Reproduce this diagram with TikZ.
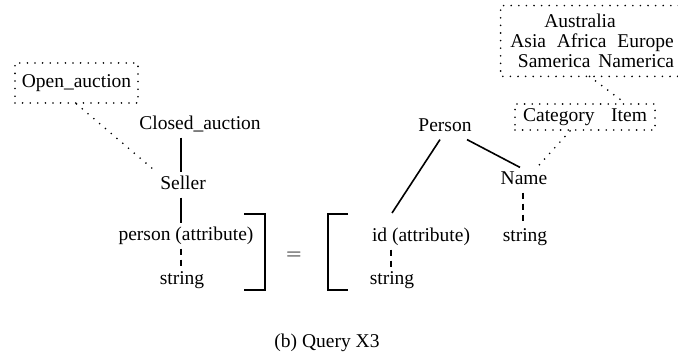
\documentclass[tikz,border=0pt]{standalone}
\usepackage{fontspec}
\setmainfont{Liberation Serif}
\begin{document}
\begin{tikzpicture}[x=0.5pt,y=-0.5pt,
  lbl/.style={inner sep=1.5pt,text height=0.7em,text depth=0.22em,font=\fontsize{9.75}{11.7}\selectfont},
  dotline/.style={line width=0.9pt,dash pattern=on 0pt off 3.8pt,line cap=round},
  solidline/.style={line width=0.8pt},
  dashline/.style={line width=0.8pt,dash pattern=on 3pt off 2.5pt},
  brk/.style={line width=1pt}]
\useasboundingbox (0,0) rectangle (678,356);
% left tree
\node[lbl,draw,dotline,minimum width=61.5pt,minimum height=20pt] (oa) at (76.5,83) {Open\_auction};
\node[lbl] (ca) at (200,125) {Closed\_auction};
\node[lbl] (seller) at (183,185) {Seller};
\node[lbl] (pattr) at (186,236) {person (attribute)};
\node[lbl] (s1) at (182,280) {string};
\draw[solidline] (ca.south -| 181,0) -- (seller.north -| 181,0);
\draw[solidline] (seller.south -| 181,0) -- (pattr.north -| 181,0);
\draw[dashline] (pattr.south -| 181,0) -- (s1.north -| 181,0);
\draw[dotline] (oa.south) -- (seller.north west);
% brackets and equals
\draw[brk] (244,214) -- (265,214) -- (265,290) -- (244,290);
\node[lbl] (eq) at (294,255) {$=$};
\draw[brk] (348,214) -- (328,214) -- (328,290) -- (348,290);
% right tree
\node[lbl] (person) at (445,127) {Person};
\node[lbl] (idattr) at (421,237) {id (attribute)};
\node[lbl] (s2) at (392,280) {string};
\node[lbl] (name) at (524,180) {Name};
\node[lbl] (s3) at (525,237) {string};
\coordinate (idtop) at (392,213);
\draw[solidline] ([xshift=-2.5pt]person.south) -- (idtop);
\draw[solidline] ([xshift=11pt]person.south) -- ([xshift=-2pt]name.north);
\draw[dashline] (name.south -| 523,0) -- (s3.north -| 523,0);
\draw[dashline] (idattr.south -| 391,0) -- (s2.north -| 391,0);
% category boxes
\node[lbl,draw,dotline,minimum width=70pt,minimum height=13pt] (cat) at (585,117) {Category\hspace{0.85em}Item};
\node[minimum width=88.5pt,minimum height=35pt,inner sep=0pt] (bigbox) at (589.5,41) {};
\draw[dotline] (bigbox.north east) -- (bigbox.north west) -- (bigbox.south west) -- (bigbox.south east);
\node[lbl] (aus) at (580,23) {Australia};
\node[lbl] (asia) at (592,43) {Asia\hspace{0.55em}Africa\hspace{0.55em}Europe};
\node[lbl] (sam) at (596,63) {Samerica\hspace{0.4em}Namerica};
\draw[dotline] (bigbox.south) -- ([xshift=20pt]cat.north);
\draw[dotline] ([xshift=-7.5pt]cat.south) -- ([xshift=6.5pt]name.north);
% caption
\node[lbl] (caption) at (327,343) {(b) Query X3};
\end{tikzpicture}
\end{document}
